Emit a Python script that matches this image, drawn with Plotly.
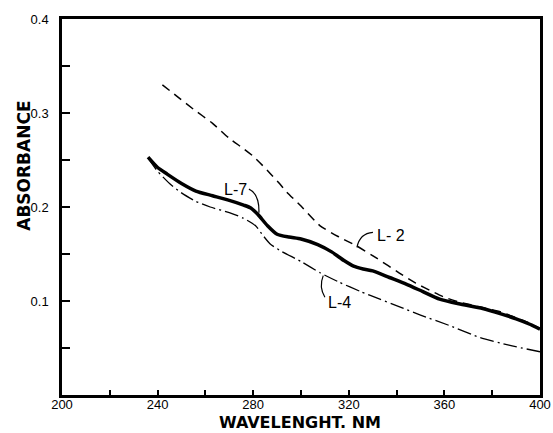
import plotly.graph_objects as go

# Absorbance spectra of three samples (wavelength in nm)
wavelength_L2 = [242, 248, 255, 263, 270, 276, 280, 284, 287, 291, 294, 300, 308,
                 316, 323, 332, 341, 348, 355, 360, 366, 376, 384, 390, 396, 400]
absorbance_L2 = [0.330, 0.318, 0.304, 0.289, 0.273, 0.262, 0.254, 0.244, 0.236,
                 0.225, 0.216, 0.201, 0.180, 0.168, 0.159, 0.145, 0.130, 0.119,
                 0.110, 0.104, 0.099, 0.093, 0.088, 0.082, 0.076, 0.071]

wavelength_L7 = [236, 240, 244, 250, 256, 263, 270, 276, 279, 282, 286, 290, 295,
                 300, 307, 313, 318, 322, 326, 330, 337, 344, 351, 358, 366, 376,
                 384, 390, 396, 400]
absorbance_L7 = [0.253, 0.242, 0.235, 0.225, 0.217, 0.212, 0.207, 0.202, 0.199,
                 0.192, 0.180, 0.171, 0.168, 0.166, 0.160, 0.152, 0.143, 0.137,
                 0.134, 0.132, 0.125, 0.118, 0.110, 0.102, 0.097, 0.092, 0.086,
                 0.081, 0.075, 0.070]

wavelength_L4 = [236, 240, 245, 250, 256, 262, 270, 276, 281, 284, 287, 291, 300,
                 308, 316, 325, 333, 341, 350, 362, 375, 387, 400]
absorbance_L4 = [0.252, 0.238, 0.225, 0.215, 0.206, 0.200, 0.194, 0.188, 0.180,
                 0.170, 0.161, 0.154, 0.142, 0.130, 0.120, 0.110, 0.102, 0.094,
                 0.085, 0.074, 0.061, 0.053, 0.046]

x_tick_values = [200, 220, 240, 260, 280, 300, 320, 340, 360, 380, 400]
x_tick_labels = ["200", "", "240", "", "280", "", "320", "", "360", "", "400"]
y_tick_values = [0.05, 0.10, 0.15, 0.20, 0.25, 0.30, 0.35, 0.40]
y_tick_labels = ["", "0.1", "", "0.2", "", "0.3", "", "0.4"]

FONT = "Liberation Sans, Arial, sans-serif"

fig = go.Figure()
fig.add_trace(go.Scatter(x=wavelength_L2, y=absorbance_L2, mode="lines",
                         line=dict(color="black", width=1.5, dash="9px,6px",
                                   shape="spline", smoothing=0.6)))
fig.add_trace(go.Scatter(x=wavelength_L4, y=absorbance_L4, mode="lines",
                         line=dict(color="black", width=1.3, dash="14px,4px,2px,4px",
                                   shape="spline", smoothing=0.6)))
fig.add_trace(go.Scatter(x=wavelength_L7, y=absorbance_L7, mode="lines",
                         line=dict(color="black", width=3.5,
                                   shape="spline", smoothing=0.6)))


def leader(x0, y0, cx, cy, x1, y1):
    return dict(type="path", xref="x", yref="y",
                path=f"M {x0},{y0} Q {cx},{cy} {x1},{y1}",
                line=dict(color="black", width=1.2))


fig.update_layout(
    shapes=[
        leader(278.2, 0.219, 282.6, 0.214, 282.4, 0.194),
        leader(330.1, 0.173, 324.6, 0.172, 323.4, 0.157),
        leader(310.0, 0.104, 307.4, 0.115, 309.3, 0.127),
    ],
    annotations=[
        dict(x=272.8, y=0.219, xref="x", yref="y", text="L-7", showarrow=False,
             font=dict(family=FONT, size=16, color="black")),
        dict(x=331.0, y=0.170, xref="x", yref="y", text="L- 2", showarrow=False,
             xanchor="left", font=dict(family=FONT, size=16, color="black")),
        dict(x=316.3, y=0.098, xref="x", yref="y", text="L-4", showarrow=False,
             font=dict(family=FONT, size=16, color="black")),
        dict(x=-0.08, y=0.609, xref="paper", yref="paper", text="ABSORBANCE",
             textangle=-90, showarrow=False, xanchor="center", yanchor="middle",
             font=dict(family="DejaVu Sans, sans-serif", size=17, color="black",
                       weight="bold")),
        dict(x=0.498, y=-0.1, xref="paper", yref="paper", text="WAVELENGHT. NM",
             showarrow=False, xanchor="center", yanchor="bottom", borderpad=0,
             font=dict(family="DejaVu Sans, sans-serif", size=16, color="black",
                       weight="bold")),
    ],
    width=553, height=433,
    margin=dict(l=62, r=13, t=19, b=38, autoexpand=False),
    paper_bgcolor="white", plot_bgcolor="white",
    showlegend=False,
    xaxis=dict(range=[200, 400], tickvals=x_tick_values, ticktext=x_tick_labels,
               ticks="inside", ticklen=5, tickwidth=1.5, tickcolor="black",
               showline=True, linewidth=2.5, linecolor="black", mirror=True,
               showgrid=False, zeroline=False, automargin=False,
               ticklabelstandoff=-4,
               tickfont=dict(family=FONT, size=13, color="black")),
    yaxis=dict(range=[0, 0.4], tickvals=y_tick_values, ticktext=y_tick_labels,
               ticks="inside", ticklen=8, tickwidth=1.5, tickcolor="black",
               showline=True, linewidth=2.5, linecolor="black", mirror=True,
               showgrid=False, zeroline=False, ticklabelstandoff=8, automargin=False,
               tickfont=dict(family=FONT, size=13, color="black")),
)

fig.write_html("out.html")
